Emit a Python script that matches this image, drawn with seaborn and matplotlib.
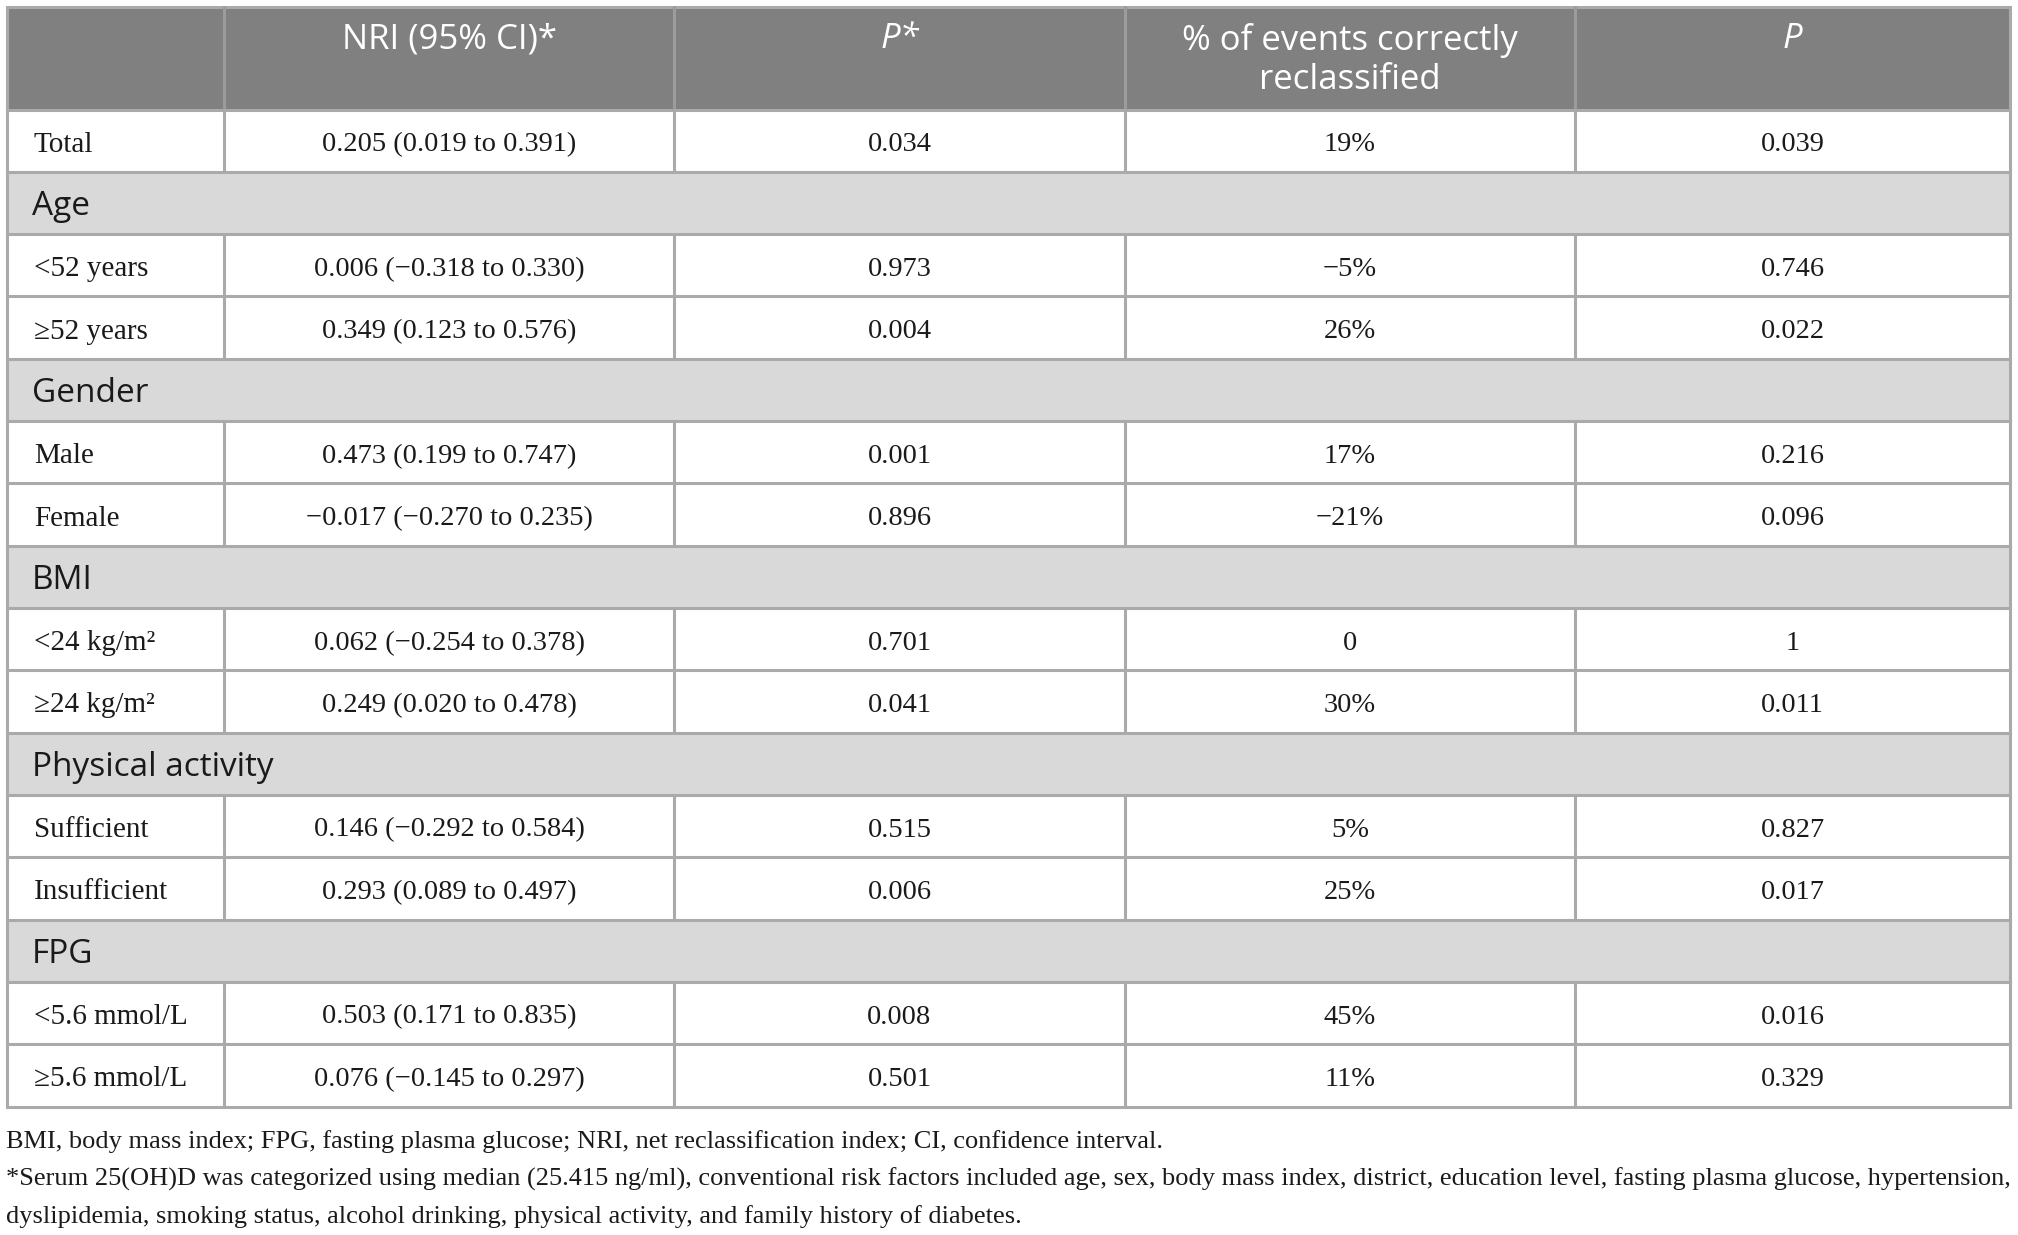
import matplotlib
matplotlib.use("Agg")
import matplotlib.pyplot as plt
from matplotlib.patches import Rectangle
import seaborn as sns

# ---------------- data ----------------
col_headers = ["", "NRI (95% CI)*", "P*", "% of events correctly\nreclassified", "P"]
header_italic = [False, False, True, False, True]

row_labels = ["Total", "Age", "<52 years", "\u226552 years", "Gender", "Male", "Female",
              "BMI", "<24 kg/m\u00b2", "\u226524 kg/m\u00b2", "Physical activity",
              "Sufficient", "Insufficient", "FPG", "<5.6 mmol/L", "\u22655.6 mmol/L"]
row_is_group = [False, True, False, False, True, False, False,
                True, False, False, True, False, False, True, False, False]

nri_est = [0.205, None, 0.006, 0.349, None, 0.473, -0.017, None, 0.062, 0.249,
           None, 0.146, 0.293, None, 0.503, 0.076]
nri_lo = [0.019, None, -0.318, 0.123, None, 0.199, -0.270, None, -0.254, 0.020,
          None, -0.292, 0.089, None, 0.171, -0.145]
nri_hi = [0.391, None, 0.330, 0.576, None, 0.747, 0.235, None, 0.378, 0.478,
          None, 0.584, 0.497, None, 0.835, 0.297]
p_star = [0.034, None, 0.973, 0.004, None, 0.001, 0.896, None, 0.701, 0.041,
          None, 0.515, 0.006, None, 0.008, 0.501]
pct_correct = [19, None, -5, 26, None, 17, -21, None, 0, 30, None, 5, 25, None, 45, 11]
p_value = [0.039, None, 0.746, 0.022, None, 0.216, 0.096, None, 1, 0.011,
           None, 0.827, 0.017, None, 0.016, 0.329]

footnotes = [
    "BMI, body mass index; FPG, fasting plasma glucose; NRI, net reclassification index; CI, confidence interval.",
    "*Serum 25(OH)D was categorized using median (25.415 ng/ml), conventional risk factors included age, sex, body mass index, district, education level, fasting plasma glucose, hypertension,",
    "dyslipidemia, smoking status, alcohol drinking, physical activity, and family history of diabetes.",
]

MINUS = "\u2212"


def fnum(v):
    if v == 1:
        return "1"
    s = f"{v:.3f}"
    return s.replace("-", MINUS)


def fpct(v):
    if v == 0:
        return "0"
    return f"{v}%".replace("-", MINUS)


# ---------------- style ----------------
sns.set_theme(style="white")
SERIF = ["Liberation Serif", "DejaVu Serif"]
SANS = ["Open Sans", "DejaVu Sans"]
plt.rcParams["font.family"] = SERIF

HEADER_BG = "#808080"
GROUP_BG = "#d9d9d9"
LINE = "#aaaaaa"
HEADER_SEP = "#9c9c9c"
LW = 2.2
TXT = "#1a1a1a"

W, H = 2018, 1235
fig = plt.figure(figsize=(W / 100, H / 100), dpi=100)
ax = fig.add_axes([0, 0, 1, 1])
ax.set_xlim(0, W)
ax.set_ylim(H, 0)
ax.axis("off")

col_x = [6.5, 224, 674, 1125, 1575, 2010]
head_top, head_bot = 6.5, 109.5
row_h = (1106.5 - head_bot) / len(row_labels)
row_y = [head_bot + i * row_h for i in range(len(row_labels) + 1)]

# backgrounds
ax.add_patch(Rectangle((col_x[0], head_top), col_x[-1] - col_x[0], head_bot - head_top,
                       facecolor=HEADER_BG, edgecolor="none", zorder=1))
for i, g in enumerate(row_is_group):
    if g:
        ax.add_patch(Rectangle((col_x[0], row_y[i]), col_x[-1] - col_x[0], row_h,
                               facecolor=GROUP_BG, edgecolor="none", zorder=1))

# header text
for j, h in enumerate(col_headers):
    if not h:
        continue
    cx = (col_x[j] + col_x[j + 1]) / 2
    ax.text(cx, head_top + 16, h, ha="center", va="top", color="white",
            fontsize=25, family=SANS, style="italic" if header_italic[j] else "normal",
            linespacing=1.2, zorder=3)

# rows
for i, lab in enumerate(row_labels):
    yc = row_y[i] + row_h / 2 + 4
    if row_is_group[i]:
        ax.text(32, yc, lab, ha="left", va="center", fontsize=24, family=SANS,
                color=TXT, zorder=3)
        continue
    ax.text(34, yc, lab, ha="left", va="center", fontsize=21, color=TXT, zorder=3)
    cells = [f"{fnum(nri_est[i])} ({fnum(nri_lo[i])} to {fnum(nri_hi[i])})",
             fnum(p_star[i]), fpct(pct_correct[i]), fnum(p_value[i])]
    for j, t in enumerate(cells, start=1):
        cx = (col_x[j] + col_x[j + 1]) / 2
        ax.text(cx, yc, t, ha="center", va="center", fontsize=20.5,
                color=TXT, zorder=3)

# grid lines
for y in [head_top] + row_y:
    ax.plot([col_x[0], col_x[-1]], [y, y], color=LINE, lw=LW, zorder=2,
            solid_capstyle="projecting")
for x in col_x[1:-1]:
    ax.plot([x, x], [head_top, head_bot], color=HEADER_SEP, lw=LW, zorder=2)
    for i, g in enumerate(row_is_group):
        if not g:
            ax.plot([x, x], [row_y[i], row_y[i + 1]], color=LINE, lw=LW, zorder=2)
for x in (col_x[0], col_x[-1]):
    ax.plot([x, x], [head_top, row_y[-1]], color=LINE, lw=LW, zorder=2)

# footnotes
for t, y in zip(footnotes, [1142, 1179, 1217]):
    ax.text(6, y, t, ha="left", va="center", fontsize=19, color=TXT)

fig.savefig("out.png", dpi=100)
